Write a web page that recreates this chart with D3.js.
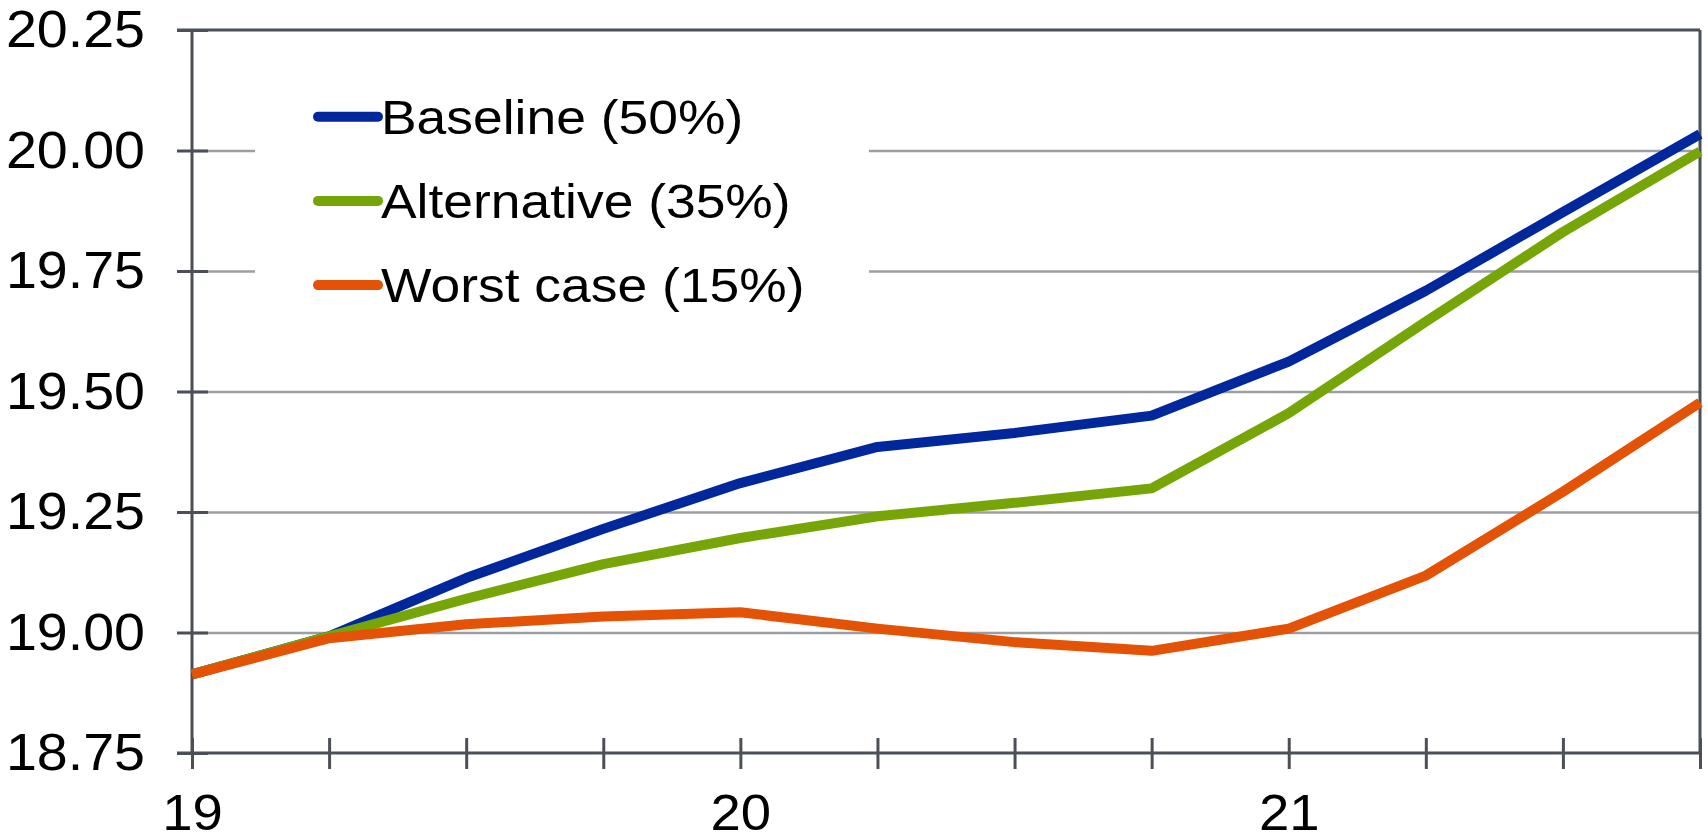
<!DOCTYPE html>
<html>
<head>
<meta charset="utf-8">
<style>
  body { margin: 0; background: #fff; }
  svg text { font-family: "Liberation Sans", Arial, sans-serif; fill: #000; }
  .grid line { stroke: #9b9ea2; stroke-width: 2.5; }
  .grid path { display: none; }
  .axis path { display: none; }
  .axis line { stroke: #4b5057; stroke-width: 3; }
  .series { fill: none; stroke-width: 10; stroke-linejoin: round; }
</style>
</head>
<body>
<div class="chart"></div>
<script src="https://d3js.org/d3.v7.min.js"></script>
<script>
  // quarterly, 2019Q1 .. 2021Q4
  const quarters = ['19Q1','19Q2','19Q3','19Q4','20Q1','20Q2','20Q3','20Q4','21Q1','21Q2','21Q3','21Q4'];
  const xTickLabels = ['19','','','','20','','','','21','','',''];
  const yTicks = [18.75, 19.00, 19.25, 19.50, 19.75, 20.00, 20.25];

  const seriesNames = ['Baseline (50%)', 'Alternative (35%)', 'Worst case (15%)'];
  const seriesColors = ['#00279b', '#76a507', '#e35205'];

  const baseline    = [18.913, 18.992, 19.113, 19.215, 19.310, 19.385, 19.414, 19.450, 19.562, 19.709, 19.872, 20.034];
  const alternative = [18.913, 18.992, 19.070, 19.142, 19.196, 19.241, 19.269, 19.299, 19.455, 19.645, 19.831, 19.998];
  const worstCase   = [18.913, 18.988, 19.017, 19.033, 19.042, 19.008, 18.980, 18.962, 19.008, 19.118, 19.292, 19.477];

  const seriesData = [baseline, alternative, worstCase];

  // the original lettering is a little wider than Arial, stretch it
  const widen = 1.09;

  function stretch(sel){
    sel.each(function(){
      const w = this.getComputedTextLength();
      if (w > 0) {
        d3.select(this)
          .attr('textLength', w * widen)
          .attr('lengthAdjust', 'spacingAndGlyphs');
      }
    });
  }

  function drawChart(){
    const W = 1708, H = 837;
    const margin = {top: 30, right: 8, bottom: 84, left: 192};
    const width = W - margin.left - margin.right,
          height = H - margin.top - margin.bottom;

    const svg = d3.select('.chart')
                  .append('svg')
                  .attr('width', W)
                  .attr('height', H);

    const g = svg.append('g')
                 .attr('transform', `translate(${margin.left}, ${margin.top})`);

    const x = d3.scaleLinear()
                .domain([0, quarters.length - 1])
                .range([0, width]);

    const y = d3.scaleLinear()
                .domain([18.75, 20.25])
                .range([height, 0]);

    // gridlines (without bottom and top, those are frame lines)
    g.append('g')
     .attr('class', 'grid')
     .call(d3.axisLeft(y)
             .tickValues(yTicks.slice(1, -1))
             .tickSize(-width)
             .tickFormat(''));

    // legend background hides the gridlines behind it
    g.append('rect')
     .attr('x', 255 - margin.left)
     .attr('y', 70 - margin.top)
     .attr('width', 869 - 255)
     .attr('height', 230)
     .attr('fill', '#fff');

    // y axis
    const yAxis = g.append('g')
                   .attr('class', 'axis')
                   .call(d3.axisLeft(y)
                           .tickValues(yTicks)
                           .tickSize(15)
                           .tickPadding(32)
                           .tickFormat(d3.format('.2f')));
    yAxis.selectAll('.tick line').attr('x1', 16);
    yAxis.selectAll('text')
         .attr('font-size', 51)
         .attr('dy', '0.33em')
         .call(stretch);

    // x axis
    const xAxis = g.append('g')
                   .attr('class', 'axis')
                   .attr('transform', `translate(0, ${height})`)
                   .call(d3.axisBottom(x)
                           .tickValues(d3.range(quarters.length))
                           .tickSize(16)
                           .tickPadding(25)
                           .tickFormat((d, i) => xTickLabels[i]));
    xAxis.selectAll('.tick line').attr('y1', -15);
    xAxis.selectAll('text')
         .attr('font-size', 50)
         .call(stretch);

    // frame: y axis, x axis, top, right
    const frame = g.append('g').attr('class', 'axis');
    frame.append('line').attr('x1', 0).attr('x2', 0).attr('y1', 0).attr('y2', height);
    frame.append('line').attr('x1', -15).attr('x2', width).attr('y1', height).attr('y2', height);
    frame.append('line').attr('x1', -15).attr('x2', width).attr('y1', 0).attr('y2', 0);
    frame.append('line').attr('x1', width).attr('x2', width).attr('y1', 0).attr('y2', height);

    // series
    const line = d3.line()
                   .x((d, i) => x(i))
                   .y(d => y(d));

    g.selectAll('.series')
     .data(seriesData)
     .join('path')
     .attr('class', 'series')
     .attr('stroke', (d, i) => seriesColors[i])
     .attr('d', line);

    // legend
    const legend = svg.append('g');
    const rows = legend.selectAll('g')
                       .data(seriesNames)
                       .join('g')
                       .attr('transform', (d, i) => `translate(318, ${116.7 + i * 84.2})`);
    rows.append('line')
        .attr('x1', 0).attr('x2', 60)
        .attr('stroke', (d, i) => seriesColors[i])
        .attr('stroke-width', 10)
        .attr('stroke-linecap', 'round');
    rows.append('text')
        .attr('x', 63)
        .attr('y', 17)
        .attr('font-size', 49)
        .text(d => d)
        .call(stretch);
  }
  drawChart()
</script>
</body>
</html>
